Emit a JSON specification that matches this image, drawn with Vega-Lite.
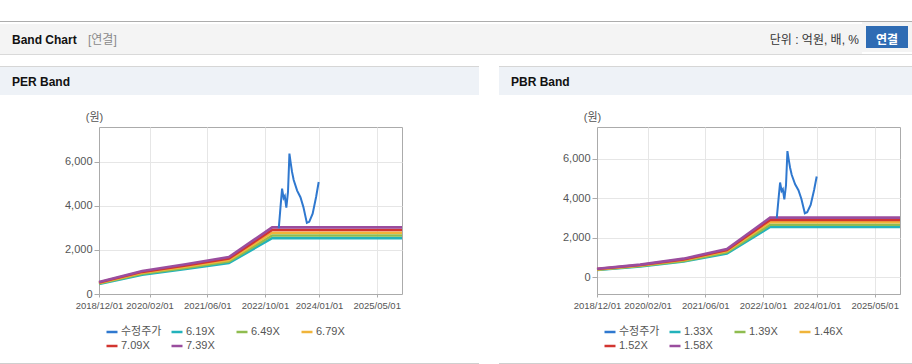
{
  "$schema": "https://vega.github.io/schema/vega-lite/v6.json",
  "padding": {"top": 21, "left": 0, "right": 0, "bottom": 0},
  "background": "white",
  "datasets": {
    "per": [
      {"series": "6.19X", "date": "2018-12-01", "value": 458},
      {"series": "6.49X", "date": "2018-12-01", "value": 480},
      {"series": "6.79X", "date": "2018-12-01", "value": 502},
      {"series": "7.09X", "date": "2018-12-01", "value": 525},
      {"series": "7.39X", "date": "2018-12-01", "value": 547},
      {"series": "6.19X", "date": "2019-12-01", "value": 879},
      {"series": "6.49X", "date": "2019-12-01", "value": 922},
      {"series": "6.79X", "date": "2019-12-01", "value": 964},
      {"series": "7.09X", "date": "2019-12-01", "value": 1007},
      {"series": "7.39X", "date": "2019-12-01", "value": 1049},
      {"series": "6.19X", "date": "2020-12-01", "value": 1133},
      {"series": "6.49X", "date": "2020-12-01", "value": 1188},
      {"series": "6.79X", "date": "2020-12-01", "value": 1243},
      {"series": "7.09X", "date": "2020-12-01", "value": 1297},
      {"series": "7.39X", "date": "2020-12-01", "value": 1352},
      {"series": "6.19X", "date": "2021-12-01", "value": 1405},
      {"series": "6.49X", "date": "2021-12-01", "value": 1473},
      {"series": "6.79X", "date": "2021-12-01", "value": 1541},
      {"series": "7.09X", "date": "2021-12-01", "value": 1609},
      {"series": "7.39X", "date": "2021-12-01", "value": 1678},
      {"series": "6.19X", "date": "2022-12-01", "value": 2538},
      {"series": "6.49X", "date": "2022-12-01", "value": 2661},
      {"series": "6.79X", "date": "2022-12-01", "value": 2784},
      {"series": "7.09X", "date": "2022-12-01", "value": 2907},
      {"series": "7.39X", "date": "2022-12-01", "value": 3030},
      {"series": "6.19X", "date": "2025-12-01", "value": 2538},
      {"series": "6.49X", "date": "2025-12-01", "value": 2661},
      {"series": "6.79X", "date": "2025-12-01", "value": 2784},
      {"series": "7.09X", "date": "2025-12-01", "value": 2907},
      {"series": "7.39X", "date": "2025-12-01", "value": 3030}
    ],
    "pbr": [
      {"series": "1.33X", "date": "2018-12-01", "value": 354},
      {"series": "1.39X", "date": "2018-12-01", "value": 370},
      {"series": "1.46X", "date": "2018-12-01", "value": 388},
      {"series": "1.52X", "date": "2018-12-01", "value": 404},
      {"series": "1.58X", "date": "2018-12-01", "value": 420},
      {"series": "1.33X", "date": "2019-12-01", "value": 531},
      {"series": "1.39X", "date": "2019-12-01", "value": 555},
      {"series": "1.46X", "date": "2019-12-01", "value": 583},
      {"series": "1.52X", "date": "2019-12-01", "value": 606},
      {"series": "1.58X", "date": "2019-12-01", "value": 630},
      {"series": "1.33X", "date": "2020-12-01", "value": 783},
      {"series": "1.39X", "date": "2020-12-01", "value": 819},
      {"series": "1.46X", "date": "2020-12-01", "value": 860},
      {"series": "1.52X", "date": "2020-12-01", "value": 895},
      {"series": "1.58X", "date": "2020-12-01", "value": 931},
      {"series": "1.33X", "date": "2021-12-01", "value": 1196},
      {"series": "1.39X", "date": "2021-12-01", "value": 1250},
      {"series": "1.46X", "date": "2021-12-01", "value": 1313},
      {"series": "1.52X", "date": "2021-12-01", "value": 1366},
      {"series": "1.58X", "date": "2021-12-01", "value": 1420},
      {"series": "1.33X", "date": "2022-12-01", "value": 2534},
      {"series": "1.39X", "date": "2022-12-01", "value": 2648},
      {"series": "1.46X", "date": "2022-12-01", "value": 2781},
      {"series": "1.52X", "date": "2022-12-01", "value": 2896},
      {"series": "1.58X", "date": "2022-12-01", "value": 3010},
      {"series": "1.33X", "date": "2025-12-01", "value": 2534},
      {"series": "1.39X", "date": "2025-12-01", "value": 2648},
      {"series": "1.46X", "date": "2025-12-01", "value": 2781},
      {"series": "1.52X", "date": "2025-12-01", "value": 2896},
      {"series": "1.58X", "date": "2025-12-01", "value": 3010}
    ],
    "price": [
      {"series": "수정주가", "date": "2023-01-26", "value": 2980},
      {"series": "수정주가", "date": "2023-02-09", "value": 3900},
      {"series": "수정주가", "date": "2023-02-23", "value": 4790},
      {"series": "수정주가", "date": "2023-03-08", "value": 4360},
      {"series": "수정주가", "date": "2023-03-18", "value": 4450},
      {"series": "수정주가", "date": "2023-03-31", "value": 3930},
      {"series": "수정주가", "date": "2023-04-14", "value": 4650},
      {"series": "수정주가", "date": "2023-04-26", "value": 6380},
      {"series": "수정주가", "date": "2023-05-07", "value": 5950},
      {"series": "수정주가", "date": "2023-05-18", "value": 5550},
      {"series": "수정주가", "date": "2023-06-01", "value": 5180},
      {"series": "수정주가", "date": "2023-06-30", "value": 4700},
      {"series": "수정주가", "date": "2023-07-28", "value": 4400},
      {"series": "수정주가", "date": "2023-08-22", "value": 3950},
      {"series": "수정주가", "date": "2023-09-20", "value": 3230},
      {"series": "수정주가", "date": "2023-10-10", "value": 3280},
      {"series": "수정주가", "date": "2023-11-08", "value": 3650},
      {"series": "수정주가", "date": "2023-12-07", "value": 4410},
      {"series": "수정주가", "date": "2023-12-29", "value": 5090}
    ]
  },
  "spacing": 11,
  "vconcat": [
    {
      "spacing": 0,
      "vconcat": [
        {
          "width": 912, "height": 1,
          "data": {"values": []}, "mark": "point",
          "view": {"fill": "#adadad", "stroke": null}
        },
        {
          "spacing": 0,
          "hconcat": [
            {
              "width": 84, "height": 30,
              "data": {"values": []}, "mark": "point",
              "view": {"fill": "#f4f4f4", "stroke": null},
              "title": {"text": "Band Chart", "anchor": "start", "orient": "top", "offset": -28, "baseline": "middle", "dx": 12, "fontSize": 12, "fontWeight": "bold", "color": "#111111"}
            },
            {
              "width": 396, "height": 30,
              "data": {"values": []}, "mark": "point",
              "view": {"fill": "#f4f4f4", "stroke": null},
              "title": {"text": "[연결]", "anchor": "start", "orient": "top", "offset": -28, "baseline": "middle", "dx": 4, "fontSize": 12, "fontWeight": "normal", "color": "#8a8a8a"}
            },
            {
              "width": 382, "height": 30,
              "data": {"values": []}, "mark": "point",
              "view": {"fill": "#f4f4f4", "stroke": null},
              "title": {"text": "단위 : 억원, 배, %", "anchor": "end", "orient": "top", "offset": -28, "baseline": "middle", "dx": -3, "fontSize": 12, "fontWeight": "normal", "color": "#333333"}
            },
            {
              "width": 46, "height": 26,
              "data": {"values": []}, "mark": "point",
              "view": {"fill": "#2f6cb4", "stroke": "#f4f4f4", "strokeWidth": 4},
              "title": {"text": "연결", "anchor": "middle", "orient": "top", "offset": -28, "baseline": "middle", "fontSize": 12, "fontWeight": "bold", "color": "#ffffff"}
            }
          ]
        },
        {
          "width": 912, "height": 1,
          "data": {"values": []}, "mark": "point",
          "view": {"fill": "#d9d9d9", "stroke": null}
        }
      ]
    },
    {
      "spacing": 15,
      "vconcat": [
        {
          "spacing": 20,
          "hconcat": [
            {
              "spacing": 0,
              "vconcat": [
                {
                  "width": 479, "height": 1,
                  "data": {"values": []}, "mark": "point",
                  "view": {"fill": "#d6d6d6", "stroke": null}
                },
                {
                  "width": 479, "height": 28,
                  "data": {"values": []}, "mark": "point",
                  "view": {"fill": "#eef2f7", "stroke": null},
                  "title": {"text": "PER Band", "anchor": "start", "orient": "top", "offset": -27, "baseline": "middle", "dx": 12, "fontSize": 12, "fontWeight": "bold", "color": "#111111"}
                }
              ]
            },
            {
              "spacing": 0,
              "vconcat": [
                {
                  "width": 413, "height": 1,
                  "data": {"values": []}, "mark": "point",
                  "view": {"fill": "#d6d6d6", "stroke": null}
                },
                {
                  "width": 413, "height": 28,
                  "data": {"values": []}, "mark": "point",
                  "view": {"fill": "#eef2f7", "stroke": null},
                  "title": {"text": "PBR Band", "anchor": "start", "orient": "top", "offset": -27, "baseline": "middle", "dx": 12, "fontSize": 12, "fontWeight": "bold", "color": "#111111"}
                }
              ]
            }
          ]
        },
        {
          "spacing": 5,
          "vconcat": [
            {
              "spacing": 0,
              "resolve": {"scale": {"color": "independent"}, "legend": {"color": "independent"}},
              "hconcat": [
                {
                  "width": 63, "height": 10,
                  "data": {"values": []}, "mark": "point",
                  "view": {"stroke": null}
                },
                {
                  "spacing": 153,
                  "resolve": {"scale": {"color": "independent"}, "legend": {"color": "independent"}},
                  "hconcat": [
                    {
                      "width": 303, "height": 167,
                      "view": {"stroke": "#ababab"},
                      "encoding": {
                        "x": {
                          "field": "date", "type": "temporal",
                          "scale": {"domain": [{"year": 2018, "month": 12, "date": 1}, {"year": 2025, "month": 12, "date": 1}]},
                          "axis": {"title": null, "format": "%Y/%m/%d", "labelFlush": false, "labelOverlap": false, "grid": true, "tickSize": 3, "labelFontSize": 9.5, "labelPadding": 3,
                            "values": [{"year": 2018, "month": 12, "date": 1}, {"year": 2020, "month": 2, "date": 1}, {"year": 2021, "month": 6, "date": 1}, {"year": 2022, "month": 10, "date": 1}, {"year": 2024, "month": 1, "date": 1}, {"year": 2025, "month": 5, "date": 1}]}
                        },
                        "y": {
                          "field": "value", "type": "quantitative",
                          "scale": {"domain": [0, 7590], "nice": false, "zero": false},
                          "axis": {"values": [0, 2000, 4000, 6000], "format": ",d", "grid": true, "tickSize": 5, "labelPadding": 2, "title": "(원)", "titleAngle": 0, "titleX": -5, "titleY": -10, "titleAlign": "center", "titleBaseline": "middle", "titleFontWeight": "normal", "titleFontSize": 11, "titleColor": "#555555"}
                        },
                        "color": {
                          "field": "series", "type": "nominal",
                          "scale": {"domain": ["수정주가", "6.19X", "6.49X", "6.79X", "7.09X", "7.39X"], "range": ["#2f78cf", "#22b2bb", "#8fbc4f", "#f0b43a", "#d23530", "#9a4d9e"]},
                          "legend": {"orient": "bottom", "direction": "horizontal", "columns": 4, "title": null}
                        }
                      },
                      "layer": [
                        {"data": {"name": "per"}, "mark": {"type": "line", "strokeWidth": 2.6}},
                        {"data": {"name": "price"}, "mark": {"type": "line", "strokeWidth": 2}}
                      ]
                    },
                    {
                      "width": 303, "height": 167,
                      "view": {"stroke": "#ababab"},
                      "encoding": {
                        "x": {
                          "field": "date", "type": "temporal",
                          "scale": {"domain": [{"year": 2018, "month": 12, "date": 1}, {"year": 2025, "month": 12, "date": 1}]},
                          "axis": {"title": null, "format": "%Y/%m/%d", "labelFlush": false, "labelOverlap": false, "grid": true, "tickSize": 3, "labelFontSize": 9.5, "labelPadding": 3,
                            "values": [{"year": 2018, "month": 12, "date": 1}, {"year": 2020, "month": 2, "date": 1}, {"year": 2021, "month": 6, "date": 1}, {"year": 2022, "month": 10, "date": 1}, {"year": 2024, "month": 1, "date": 1}, {"year": 2025, "month": 5, "date": 1}]}
                        },
                        "y": {
                          "field": "value", "type": "quantitative",
                          "scale": {"domain": [-860, 7600], "nice": false, "zero": false},
                          "axis": {"values": [0, 2000, 4000, 6000], "format": ",d", "grid": true, "tickSize": 5, "labelPadding": 2, "title": "(원)", "titleAngle": 0, "titleX": -5, "titleY": -10, "titleAlign": "center", "titleBaseline": "middle", "titleFontWeight": "normal", "titleFontSize": 11, "titleColor": "#555555"}
                        },
                        "color": {
                          "field": "series", "type": "nominal",
                          "scale": {"domain": ["수정주가", "1.33X", "1.39X", "1.46X", "1.52X", "1.58X"], "range": ["#2f78cf", "#22b2bb", "#8fbc4f", "#f0b43a", "#d23530", "#9a4d9e"]},
                          "legend": {"orient": "bottom", "direction": "horizontal", "columns": 4, "title": null}
                        }
                      },
                      "layer": [
                        {"data": {"name": "pbr"}, "mark": {"type": "line", "strokeWidth": 2.6}},
                        {"data": {"name": "price"}, "mark": {"type": "line", "strokeWidth": 2}}
                      ]
                    }
                  ]
                }
              ]
            },
            {
              "spacing": 20,
              "hconcat": [
                {
                  "width": 479, "height": 1,
                  "data": {"values": []}, "mark": "point",
                  "view": {"fill": "#cfcfcf", "stroke": null}
                },
                {
                  "width": 413, "height": 1,
                  "data": {"values": []}, "mark": "point",
                  "view": {"fill": "#cfcfcf", "stroke": null}
                }
              ]
            }
          ]
        }
      ]
    }
  ],
  "config": {
    "font": "Liberation Sans, Noto Sans CJK KR, sans-serif",
    "axis": {"labelColor": "#555555", "labelFontSize": 11, "domainColor": "#ababab", "tickColor": "#ababab", "gridColor": "#e6e6e6", "labelFont": "Liberation Sans, Noto Sans CJK KR, sans-serif"},
    "legend": {"symbolType": "stroke", "symbolStrokeWidth": 2.5, "symbolSize": 121, "labelFontSize": 11, "labelColor": "#555555", "labelOffset": 2, "gridAlign": "all", "columnPadding": 4, "rowPadding": 2, "padding": 6, "offset": 9, "labelFont": "Liberation Sans, Noto Sans CJK KR, sans-serif"}
  }
}
